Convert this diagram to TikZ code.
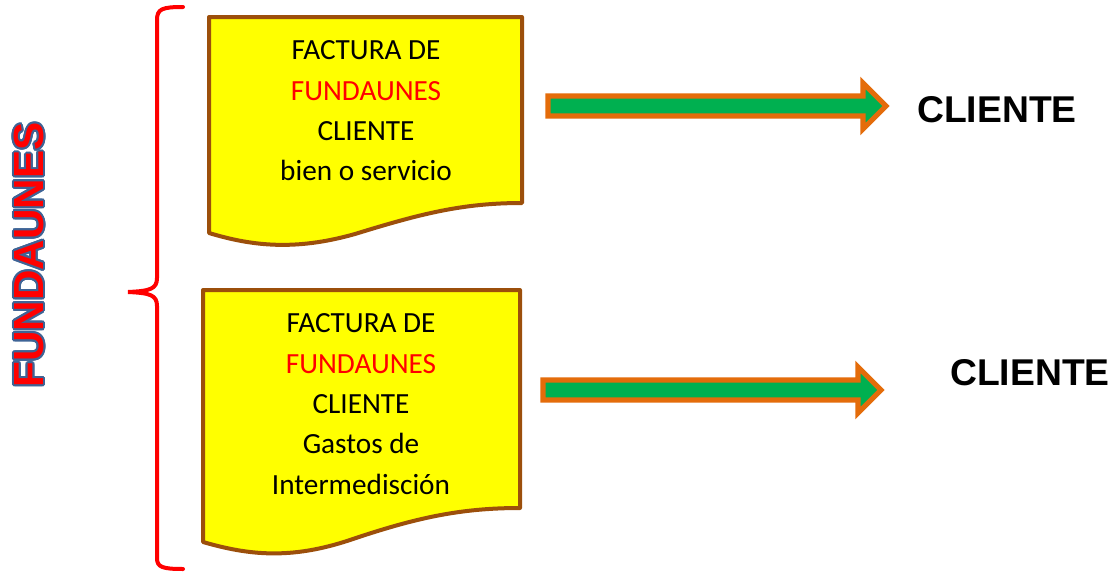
\documentclass[tikz,border=0pt]{standalone}
\usepackage{fontspec}
\setmainfont{Carlito}
\newfontfamily\arialfont{Liberation Sans}
\usepackage[copies]{contour}
\usetikzlibrary{calc,positioning}
\definecolor{docfill}{HTML}{FFFF00}
\definecolor{docline}{HTML}{9C4F0B}
\definecolor{flechaverde}{HTML}{00B050}
\definecolor{flechanaranja}{HTML}{E46C0A}
\definecolor{contorno}{HTML}{3E6496}
\contourlength{1.4pt}

\begin{document}
\begin{tikzpicture}[x=0.025cm,y=-0.025cm,
  doc/.style={fill=docfill,draw=docline,line width=0.1cm,line join=round},
  flecha/.style={fill=flechaverde,draw=flechanaranja,line width=0.13cm,line join=miter},
  llave/.style={draw=red,line width=0.1cm,line cap=round},
  doctext/.style={align=center,font=\fontsize{20.8}{28.7}\selectfont,inner sep=0pt},
  destino/.style={font=\arialfont\bfseries\fontsize{26.5}{30}\selectfont,inner sep=0pt}]
\useasboundingbox (0,0) rectangle (1114,573);

% llave roja
\draw[llave] (183,7) .. controls (162,7) and (157,9) .. (157,20) -- (157,278)
  .. controls (157,289) and (150,291) .. (128,292)
  .. controls (150,293) and (157,295) .. (157,306) -- (157,558)
  .. controls (157,567) and (162,569) .. (183,569);

\node[rotate=90,font=\arialfont\bfseries\fontsize{30}{32}\selectfont,inner sep=0pt] (titulo) at (30,255)
  {\contour{contorno}{\textcolor{red}{FUNDAUNES}}};

% factura 1
\draw[doc] (209,17) -- (522,17) -- (522,203)
  .. controls (462,203) and (420,214) .. (355,234)
  .. controls (295,251) and (252,246) .. (209,233) -- cycle;
\node[doctext] (fac1) at (366,111)
  {FACTURA DE\\ \textcolor{red}{FUNDAUNES}\\ CLIENTE\\ bien o servicio};

% factura 2
\draw[doc] (203,290) -- (520,290) -- (520,508)
  .. controls (460,508) and (415,518) .. (350,540)
  .. controls (290,560) and (248,555) .. (203,542) -- cycle;
\node[doctext] (fac2) at (361,404)
  {FACTURA DE\\ \textcolor{red}{FUNDAUNES}\\ CLIENTE\\ Gastos de\\ Intermedisción};

% flechas
\coordinate (f1a) at (548,106);
\coordinate (f1b) at (886,106);
\draw[flecha] ($(f1a)+(0,-10)$) -- ($(f1b)+(-23,-10)$) -- ($(f1b)+(-23,-23)$) -- (f1b)
  -- ($(f1b)+(-23,23)$) -- ($(f1b)+(-23,10)$) -- ($(f1a)+(0,10)$) -- cycle;
\coordinate (f2a) at (543,390);
\coordinate (f2b) at (881,390);
\draw[flecha] ($(f2a)+(0,-10)$) -- ($(f2b)+(-23,-10)$) -- ($(f2b)+(-23,-23)$) -- (f2b)
  -- ($(f2b)+(-23,23)$) -- ($(f2b)+(-23,10)$) -- ($(f2a)+(0,10)$) -- cycle;

\node[destino] (cli1) at (997,110) {CLIENTE};
\node[destino] (cli2) at (1030,373) {CLIENTE};
\end{tikzpicture}
\end{document}
